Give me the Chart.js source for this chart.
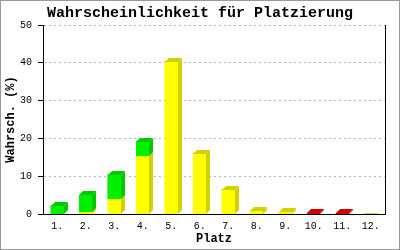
<!DOCTYPE html>
<html>
<head>
<meta charset="utf-8">
<script src="https://cdn.jsdelivr.net/npm/chart.js@4"></script>
<style>
  html, body { margin: 0; padding: 0; background: #fff; }
  #wrap { width: 400px; height: 250px; }
</style>
</head>
<body>
<div id="wrap"><canvas id="myChart" width="400" height="250"></canvas></div>
<script>
// data
const places = ['1.', '2.', '3.', '4.', '5.', '6.', '7.', '8.', '9.', '10.', '11.', '12.'];
const yellowValues = [0, 0.4, 4.0, 15.4, 40.3, 15.9, 6.3, 0.8, 0.4, 0, 0, 0];
const greenValues = [2.1, 4.5, 6.3, 3.7, 0, 0, 0, 0, 0, 0, 0, 0];
const redValues = [0, 0, 0, 0, 0, 0, 0, 0, 0, 0.15, 0.15, 0];
const yTicks = [0, 10, 20, 30, 40, 50];

const DEPTH = 4;
const MONO = '"Liberation Mono", "DejaVu Sans Mono", monospace';

// draws the side and top faces so the bars look 3D
const bar3d = {
  id: 'bar3d',
  afterDatasetsDraw(chart) {
    const ctx = chart.ctx;
    ctx.save();
    chart.data.datasets.forEach((ds, i) => {
      const meta = chart.getDatasetMeta(i);
      meta.data.forEach((bar, j) => {
        if (!ds.data[j]) return;
        const p = bar.getProps(['x', 'y', 'base', 'width'], true);
        const l = Math.round(p.x - p.width / 2);
        const r = l + Math.round(p.width);
        const top = Math.round(p.y);
        const bot = Math.round(p.base);
        ctx.fillStyle = ds.sideColor;
        ctx.beginPath();
        ctx.moveTo(r, bot);
        ctx.lineTo(r + DEPTH, bot - DEPTH);
        ctx.lineTo(r + DEPTH, top - DEPTH);
        ctx.lineTo(r, top);
        ctx.closePath();
        ctx.fill();
        ctx.fillStyle = ds.topColor;
        ctx.beginPath();
        ctx.moveTo(l, top);
        ctx.lineTo(l + DEPTH, top - DEPTH);
        ctx.lineTo(r + DEPTH, top - DEPTH);
        ctx.lineTo(r, top);
        ctx.closePath();
        ctx.fill();
        ctx.fillStyle = ds.backgroundColor;
        ctx.fillRect(l, top, r - l, bot - top);
      });
    });
    ctx.restore();
  },
  afterDraw(chart) {
    const ctx = chart.ctx;
    const a = chart.chartArea;
    ctx.save();
    // right plot edge
    ctx.strokeStyle = '#000';
    ctx.lineWidth = 1;
    ctx.beginPath();
    ctx.moveTo(Math.round(a.right) + 0.5, a.top);
    ctx.lineTo(Math.round(a.right) + 0.5, a.bottom);
    ctx.stroke();
    // frame round the picture
    ctx.strokeStyle = '#999';
    ctx.strokeRect(0.5, 0.5, chart.width - 1, chart.height - 1);
    ctx.restore();
  }
};

const ctx = document.getElementById('myChart').getContext('2d');
new Chart(ctx, {
  type: 'bar',
  data: {
    labels: places,
    datasets: [
      { label: 'gelb', data: yellowValues, backgroundColor: '#ffff00', sideColor: '#d2d000', topColor: '#d2d000' },
      { label: 'grün', data: greenValues, backgroundColor: '#00f000', sideColor: '#00c800', topColor: '#00c800' },
      { label: 'rot', data: redValues, backgroundColor: '#e00000', sideColor: '#c00000', topColor: '#d00000' }
    ]
  },
  options: {
    responsive: false,
    animation: false,
    events: [],
    layout: { padding: 0 },
    barThickness: 13,
    plugins: {
      legend: { display: false },
      tooltip: { enabled: false },
      title: {
        display: true,
        text: 'Wahrscheinlichkeit für Platzierung',
        color: '#000',
        font: { family: MONO, size: 15, weight: 'bold', lineHeight: 1.2 },
        padding: { top: 4, bottom: 3 }
      }
    },
    scales: {
      x: {
        stacked: true,
        grid: { display: false, drawTicks: false },
        border: { color: '#000', width: 1 },
        ticks: { color: '#000', padding: 6, font: { family: MONO, size: 10 } },
        title: {
          display: true,
          text: 'Platz',
          color: '#000',
          font: { family: MONO, size: 12, weight: 'bold' },
          padding: { top: 0, bottom: 4 }
        },
        afterFit(scale) { scale.height = 36; }
      },
      y: {
        stacked: true,
        min: 0,
        max: 50,
        afterBuildTicks(scale) { scale.ticks = yTicks.map(v => ({ value: v })); },
        grid: { color: '#b4b4b4', tickColor: '#000', tickLength: 5, lineWidth: 1 },
        border: { color: '#000', width: 1, dash: [2, 3] },
        ticks: { color: '#000', padding: 6, font: { family: MONO, size: 10 } },
        title: {
          display: true,
          text: 'Wahrsch. (%)',
          color: '#000',
          font: { family: MONO, size: 12, weight: 'bold' },
          padding: { top: 4, bottom: 0 }
        },
        afterFit(scale) { scale.width = 43; }
      },
      // empty right-hand axis that only reserves the right margin
      r: {
        type: 'linear',
        position: 'right',
        min: 0,
        max: 50,
        grid: { display: false, drawTicks: false },
        border: { display: false },
        ticks: { display: false },
        afterFit(scale) { scale.width = 15; }
      }
    }
  },
  plugins: [bar3d]
});
</script>
</body>
</html>
